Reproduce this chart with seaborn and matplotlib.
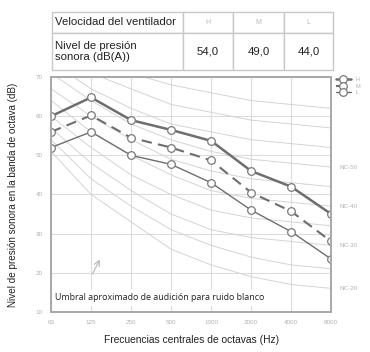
import numpy as np
import pandas as pd
import matplotlib
matplotlib.use('Agg')
import matplotlib.pyplot as plt
import seaborn as sns

# Bandas de octava
frecuencias = ['63', '125', '250', '500', '1000', '2000', '4000', '8000']

# Niveles por velocidad del ventilador (dB)
nivel_h = [60.0, 64.8, 59.0, 56.5, 53.7, 46.0, 42.0, 35.0]
nivel_m = [56.0, 60.2, 54.5, 52.0, 48.7, 40.5, 35.7, 28.0]
nivel_l = [52.0, 56.0, 50.0, 47.7, 43.0, 36.0, 30.5, 23.5]

# Curvas NC de fondo
nc_nombres = ['NC-20', 'NC-25', 'NC-30', 'NC-35', 'NC-40', 'NC-45', 'NC-50', 'NC-55', 'NC-60', 'NC-65']
nc_valores = [
    [51, 40, 33, 26, 22, 19, 17, 16],
    [54, 44, 37, 31, 27, 24, 22, 21],
    [57, 48, 41, 35, 31, 29, 28, 27],
    [60, 52, 45, 40, 36, 34, 33, 32],
    [64, 56, 50, 45, 41, 39, 38, 37],
    [67, 60, 54, 49, 46, 44, 43, 42],
    [71, 64, 58, 54, 51, 49, 48, 47],
    [74, 67, 62, 58, 56, 54, 53, 52],
    [77, 71, 67, 63, 61, 59, 58, 57],
    [80, 75, 71, 68, 66, 64, 63, 62],
]
nc_etiquetas = ['NC-20', 'NC-30', 'NC-40', 'NC-50']

# Tabla superior
tabla_cab = ['Velocidad del ventilador', 'H', 'M', 'L']
tabla_fila = ['Nivel de presión\nsonora (dB(A))', '54,0', '49,0', '44,0']

y_ticks = [10, 20, 30, 40, 50, 60, 70]

sns.set_style('white')
plt.rcParams['font.family'] = ['Liberation Sans', 'DejaVu Sans']

fig = plt.figure(figsize=(3.7, 3.52), dpi=100)
ax = fig.add_axes([0.138, 0.114, 0.757, 0.667])

pos = np.arange(len(frecuencias))

# Curvas NC
for nombre, vals in zip(nc_nombres, nc_valores):
    sns.lineplot(x=pos, y=vals, ax=ax, color='#d4d4d4', linewidth=0.7, legend=False)
    if nombre in nc_etiquetas:
        ax.text(len(frecuencias) - 1 + 0.2, vals[-1], nombre, fontsize=4.5,
                color='#b0b0b0', va='center', ha='left', clip_on=False)

# Series principales
df = pd.DataFrame({
    'pos': np.tile(pos, 3),
    'nivel': nivel_h + nivel_m + nivel_l,
    'velocidad': ['H'] * 8 + ['M'] * 8 + ['L'] * 8,
})
estilos = {
    'H': dict(linewidth=1.8, linestyle='-'),
    'M': dict(linewidth=1.5, linestyle=(0, (5, 3))),
    'L': dict(linewidth=1.0, linestyle='-'),
}
for vel, sub in df.groupby('velocidad', sort=False):
    sns.lineplot(data=sub, x='pos', y='nivel', ax=ax, color='#6e6e6e',
                 marker='o', markersize=5.5, markerfacecolor='white',
                 markeredgecolor='#7a7a7a', markeredgewidth=0.9,
                 label=vel, **estilos[vel])

ax.set_xlim(0, len(frecuencias) - 1)
ax.set_ylim(10, 70)
ax.set_xticks(pos)
ax.set_xticklabels(frecuencias, fontsize=4.5, color='#b0b0b0')
ax.set_yticks(y_ticks)
ax.set_yticklabels([str(v) for v in y_ticks], fontsize=4.5, color='#b0b0b0')
ax.tick_params(length=0, pad=6)
ax.grid(True, color='#dcdcdc', linewidth=0.8)
for s in ax.spines.values():
    s.set_color('#a8a8a8')
    s.set_linewidth(1.4)

ax.set_xlabel('Frecuencias centrales de octavas (Hz)', fontsize=7.4, labelpad=7, color='#222222')
ax.set_ylabel('Nivel de presión sonora en la banda de octava (dB)', fontsize=7.1,
              labelpad=13, color='#222222')

leg = ax.legend(loc='upper left', bbox_to_anchor=(1.01, 1.01), frameon=False,
                fontsize=4, handlelength=2.6, labelcolor='#b0b0b0',
                borderaxespad=0, labelspacing=0.3)

# Umbral de audicion
ax.annotate('', xy=(1.25, 24), xytext=(1.0, 19),
            arrowprops=dict(arrowstyle='->', color='#b8b8b8', lw=0.8))
ax.text(0.1, 13.6, 'Umbral aproximado de audición para ruido blanco', fontsize=6.4,
        family=['Open Sans', 'DejaVu Sans'], color='#222222', va='center',
        bbox=dict(facecolor='white', edgecolor='none', pad=2.5))

# Tabla
ax_t = fig.add_axes([0.14, 0.80, 0.76, 0.165])
ax_t.axis('off')
tabla = ax_t.table(cellText=[tabla_cab, tabla_fila], cellLoc='center',
                   colWidths=[0.465, 0.18, 0.18, 0.175], bbox=[0, 0, 1, 1])
tabla.auto_set_font_size(False)
for (r, c), celda in tabla.get_celld().items():
    celda.set_edgecolor('#c8c8c8')
    celda.set_linewidth(1.0)
    celda.get_text().set_fontsize(8.2)
    celda.get_text().set_color('#222222')
    if r == 0:
        celda.set_height(0.35)
        if c > 0:
            celda.get_text().set_color('#b8b8b8')
            celda.get_text().set_fontsize(5)
    else:
        celda.set_height(0.65)
    if c == 0:
        celda.get_text().set_ha('left')
        celda.PAD = 0.025
        celda._loc = 'left'

fig.savefig('out.png', dpi=100)
